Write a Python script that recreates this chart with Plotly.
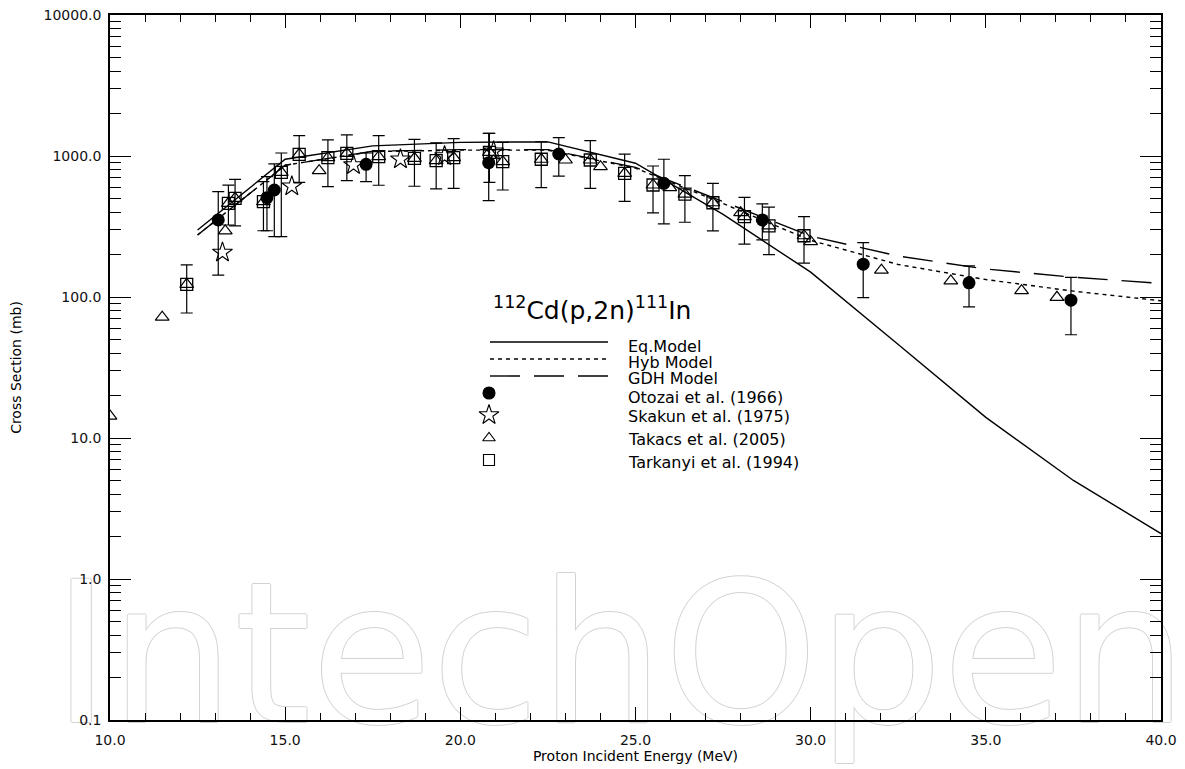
import plotly.graph_objects as go

# ---------------- data ----------------
# model calculations (energy grid in MeV, cross section in mb)
model_E = [12.5, 15.0, 17.5, 20.0, 22.5, 25.0, 27.5, 30.0, 32.5, 35.0, 37.5, 40.0]
eq_model = [299, 948, 1180, 1250, 1260, 888, 385, 150, 46, 14.0, 5.0, 2.1]
hyb_model = [275, 860, 1075, 1100, 1100, 820, 460, 252, 170, 133, 110, 94]
gdh_model = [275, 860, 1080, 1110, 1110, 830, 475, 270, 195, 158, 138, 125]

# Otozai et al. (1966)
otozai_E = [13.09, 14.48, 14.69, 17.31, 20.81, 22.81, 25.81, 28.62, 31.50, 34.52, 37.43]
otozai_s = [352, 506, 574, 873, 897, 1033, 640, 352, 171, 126, 95]
otozai_hi = [558, 713, 880, 1050, 1449, 1349, 948, 457, 243, 166, 138]
otozai_lo = [143, 295, 268, 658, 482, 721, 330, 254, 99, 85, 54]

# Skakun et al. (1975)
skakun_E = [13.21, 15.19, 16.95, 18.29, 19.55, 20.95]
skakun_s = [207, 610, 863, 948, 1000, 1080]

# Takacs et al. (2005)
takacs_E = [10.0, 11.49, 12.19, 13.29, 13.38, 13.57, 14.38, 14.89, 15.40, 15.97, 16.22,
            16.76, 17.67, 18.69, 19.31, 19.81, 20.83, 21.21, 22.31, 23.00, 23.71, 24.00,
            24.69, 25.50, 25.98, 26.41, 27.21, 28.00, 28.11, 28.81, 29.81, 30.00, 32.02,
            34.00, 36.02, 37.03]
takacs_s = [14.3, 72, 123, 294, 462, 501, 474, 766, 1028, 787, 973,
            1045, 989, 963, 926, 973, 1062, 912, 948, 937, 937, 840,
            754, 623, 596, 537, 466, 396, 371, 319, 272, 247, 155,
            130, 111, 99.5]

# Tarkanyi et al. (1994)
tark_E = [12.19, 13.38, 13.57, 14.38, 14.89, 15.40, 16.22, 16.76, 17.67, 18.69, 19.31,
          19.81, 20.83, 21.21, 22.31, 23.71, 24.69, 25.50, 26.41, 27.21, 28.11, 28.81, 29.81]
tark_s = [123, 462, 501, 474, 766, 1028, 973, 1045, 989, 963, 926,
          973, 1062, 912, 948, 937, 754, 623, 537, 466, 371, 319, 272]
tark_hi = [169, 622, 683, 657, 1050, 1393, 1300, 1410, 1393, 1310, 1240,
           1330, 1450, 1250, 1262, 1285, 1030, 849, 725, 640, 508, 434, 372]
tark_lo = [77, 324, 319, 295, 268, 650, 606, 668, 620, 610, 585,
           590, 650, 574, 596, 590, 477, 395, 339, 294, 237, 200, 174]

title_text = "<sup>112</sup>Cd(p,2n)<sup>111</sup>In"
model_names = ["Eq.Model", "Hyb Model", "GDH Model"]
data_names = ["Otozai et al. (1966)", "Skakun et al. (1975)",
              "Takacs et al. (2005)", "Tarkanyi et al. (1994)"]

# ---------------- figure ----------------
# the page body adds an 8px offset; plot area should land at x 110..1161, y 15..720
W, H = 1185, 769
OFF = 8
ML, MT = 110 - OFF, 15 - OFF
MR, MB = W - (1161 - OFF), H - (720 - OFF)
PW, PH = W - ML - MR, H - MT - MB
FONT = "DejaVu Sans"


def px_x(px):
    return (px - OFF - ML) / PW


def px_y(py):
    return (H - MB - (py - OFF)) / PH


fig = go.Figure()

# watermark (outlined text, drawn beneath everything)
fig.add_trace(go.Scatter(
    x=[24.55], y=[0.215], mode="text", text=["IntechOpen"],
    textfont=dict(family="DejaVu Sans", size=196, color="white",
                  shadow="1px 0 0 #d2d2d2, -1px 0 0 #d2d2d2, 0 1px 0 #d2d2d2, 0 -1px 0 #d2d2d2"),
    cliponaxis=False, showlegend=False, hoverinfo="skip"))

line_style = dict(color="black", width=1.4)
fig.add_trace(go.Scatter(x=model_E, y=eq_model, mode="lines",
                         line=dict(**line_style), showlegend=False))
fig.add_trace(go.Scatter(x=model_E, y=hyb_model, mode="lines",
                         line=dict(**line_style, dash="4px,4px"), showlegend=False))
fig.add_trace(go.Scatter(x=model_E, y=gdh_model, mode="lines",
                         line=dict(**line_style, dash="30px,14px"), showlegend=False))

err_style = dict(color="black", thickness=1.2, width=6)

fig.add_trace(go.Scatter(
    x=tark_E, y=tark_s, mode="markers",
    marker=dict(symbol="square-open", size=12, color="black", line=dict(width=1.3)),
    error_y=dict(type="data", symmetric=False,
                 array=[h - s for h, s in zip(tark_hi, tark_s)],
                 arrayminus=[s - l for s, l in zip(tark_s, tark_lo)], **err_style),
    showlegend=False))

fig.add_trace(go.Scatter(
    x=takacs_E, y=takacs_s, mode="markers",
    marker=dict(symbol="triangle-up-open", size=12, color="black", line=dict(width=1.2)),
    showlegend=False))

fig.add_trace(go.Scatter(
    x=skakun_E, y=skakun_s, mode="markers",
    marker=dict(symbol="star-open", size=15, color="black", line=dict(width=1.1)),
    showlegend=False))

fig.add_trace(go.Scatter(
    x=otozai_E, y=otozai_s, mode="markers",
    marker=dict(symbol="circle", size=13, color="black", line=dict(width=0)),
    error_y=dict(type="data", symmetric=False,
                 array=[h - s for h, s in zip(otozai_hi, otozai_s)],
                 arrayminus=[s - l for s, l in zip(otozai_s, otozai_lo)], **err_style),
    showlegend=False))

# ---------------- hand-drawn legend (overlay axes 0..1) ----------------
leg_line_y = [342, 359, 376]
leg_dash = ["solid", "4px,4px", "30px,14px"]
for yy, dsh in zip(leg_line_y, leg_dash):
    fig.add_trace(go.Scatter(
        x=[px_x(490), px_x(608)], y=[px_y(yy), px_y(yy)], mode="lines",
        line=dict(color="black", width=1.4, dash=dsh),
        xaxis="x2", yaxis="y2", showlegend=False, hoverinfo="skip"))

leg_mk_y = [393, 415, 438, 460]
leg_symbols = ["circle", "star-open", "triangle-up-open", "square-open"]
leg_sizes = [12, 15, 11, 11]
for yy, sym, sz in zip(leg_mk_y, leg_symbols, leg_sizes):
    fig.add_trace(go.Scatter(
        x=[px_x(489)], y=[px_y(yy)], mode="markers",
        marker=dict(symbol=sym, size=sz, color="black", line=dict(width=1.1, color="black")),
        xaxis="x2", yaxis="y2", showlegend=False, hoverinfo="skip"))

annotations = [dict(text=title_text, x=px_x(592), y=px_y(308), xref="paper", yref="paper",
                    showarrow=False, xanchor="center", yanchor="middle",
                    font=dict(family=FONT, size=25, color="black"))]
leg_txt_y = [346, 362, 378, 397, 417, 439, 462]
for txt, yy in zip(model_names + data_names, leg_txt_y):
    annotations.append(dict(text=txt, x=px_x(626), y=px_y(yy), xref="paper", yref="paper",
                            showarrow=False, xanchor="left", yanchor="middle", align="left",
                            font=dict(family=FONT, size=16, color="black")))

axis_common = dict(showline=True, linecolor="black", linewidth=1.5, mirror="ticks",
                   ticks="inside", tickcolor="black", showgrid=False, zeroline=False,
                   automargin=False, ticklabeloverflow="allow",
                   tickfont=dict(family=FONT, size=14, color="#111"))

fig.update_layout(
    width=W, height=H,
    margin=dict(l=ML, r=MR, t=MT, b=MB, autoexpand=False),
    paper_bgcolor="white", plot_bgcolor="white",
    font=dict(family=FONT, color="black"),
    xaxis=dict(range=[10, 40], dtick=5, tick0=10, tickformat=".1f", ticklen=13, tickwidth=1,
               minor=dict(dtick=1, ticks="inside", ticklen=7, tickcolor="black", tickwidth=1),
               ticklabelstandoff=6,
               title=dict(text="Proton Incident Energy (MeV)", standoff=4,
                          font=dict(family=FONT, size=14, color="black")),
               **axis_common),
    yaxis=dict(type="log", range=[-1, 4], dtick=1, tickformat=".1f", ticklen=21, tickwidth=1,
               minor=dict(dtick="D1", ticks="inside", ticklen=11, tickcolor="black", tickwidth=1),
               ticklabelstandoff=4,
               title=dict(text="Cross Section (mb)", standoff=22,
                          font=dict(family=FONT, size=14, color="black")),
               **axis_common),
    xaxis2=dict(range=[0, 1], overlaying="x", visible=False, fixedrange=True),
    yaxis2=dict(range=[0, 1], overlaying="y", visible=False, fixedrange=True),
    annotations=annotations,
    showlegend=False,
)

fig.write_html("out.html")
